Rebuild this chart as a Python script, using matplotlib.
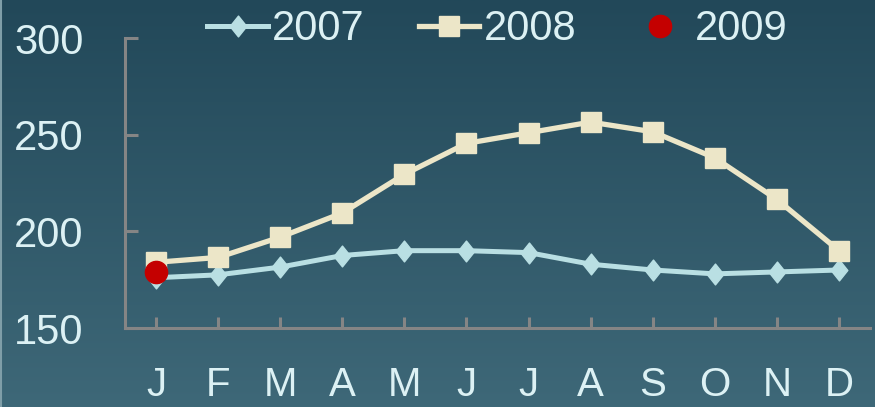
import numpy as np
import matplotlib
matplotlib.use("Agg")
import matplotlib.pyplot as plt
from matplotlib.colors import LinearSegmentedColormap
from matplotlib.path import Path

months = ["J", "F", "M", "A", "M", "J", "J", "A", "S", "O", "N", "D"]
s2007 = [176, 177.5, 181.5, 187.5, 190, 190, 189, 183, 180, 178, 179, 180]
s2008 = [184, 186.5, 197, 209.5, 229.5, 245.5, 251, 256.5, 251.5, 238, 216.5, 190]
s2009 = [179]
yticks = [150, 200, 250, 300]

plt.rcParams['font.family'] = ['Liberation Sans', 'DejaVu Sans']
txt = '#dcf1f4'
axc = '#858585'

diamond = Path([(0, 1), (0.8, 0), (0, -1), (-0.8, 0), (0, 1)],
               [Path.MOVETO, Path.LINETO, Path.LINETO, Path.LINETO, Path.CLOSEPOLY])

fig = plt.figure(figsize=(8.75, 4.07), dpi=100)
bg = fig.add_axes([0, 0, 1, 1], zorder=-10)
cmap = LinearSegmentedColormap.from_list('bg', ['#224859', '#3e6878'])
bg.imshow(np.linspace(0, 1, 256).reshape(-1, 1), aspect='auto', cmap=cmap,
          extent=[0, 1, 0, 1])
bg.plot([0.001, 0.001], [0, 1], color='#7f9ea8', lw=1.5)
bg.set_xlim(0, 1); bg.set_ylim(0, 1)
bg.axis('off')

ax = fig.add_axes([0.1429, 0.1941, 0.8514, 0.7125])
ax.patch.set_alpha(0)
x = np.arange(len(months))
ax.plot(x, s2007, color='#b9dfe3', lw=3.6, marker=diamond, markersize=15,
        label='2007', solid_joinstyle='round')
ax.plot(x, s2008, color='#ece6c8', lw=3.8, marker='s', markersize=15,
        label='2008')
ax.plot(x[:1], s2009, color='#c40000', lw=0, marker='o', markersize=16,
        label='2009')

ax.set_xlim(-0.5, 11.5)
ax.set_ylim(150, 300)
ax.set_xticks(x)
ax.set_xticklabels(months)
ax.set_yticks(yticks)
for s in ['top', 'right']:
    ax.spines[s].set_visible(False)
for s in ['left', 'bottom']:
    ax.spines[s].set_color(axc)
    ax.spines[s].set_linewidth(2.2)
ax.tick_params(axis='x', direction='in', length=8, width=2.2, color=axc,
               labelsize=29, labelcolor=txt, pad=27)
ax.tick_params(axis='y', direction='in', length=9, width=2.2, color=axc,
               labelsize=30, labelcolor=txt, pad=30)

leg = ax.legend(loc='center', bbox_to_anchor=(0.5, 1.03), ncol=3, frameon=False,
                fontsize=30, labelcolor=txt, handlelength=1.45,
                handletextpad=0.1, columnspacing=1.3, numpoints=1,
                borderaxespad=0)

fig.savefig('out.png', dpi=100)
